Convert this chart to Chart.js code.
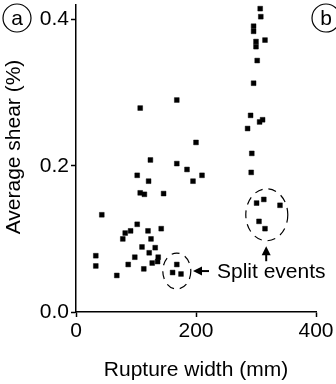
<!DOCTYPE html>
<html>
<head>
<meta charset="utf-8">
<script src="https://cdn.jsdelivr.net/npm/chart.js@4.4.0/dist/chart.umd.min.js"></script>
<style>
  html, body { margin: 0; padding: 0; background: #fff; }
</style>
</head>
<body>
<canvas id="shearChart" width="336" height="384"></canvas>
<script>
// rupture width (mm) / average shear (%)
const mainWidth = [168, 107, 200, 124, 168, 185, 102, 210, 121, 195, 107, 114, 146, 43, 102, 91, 82, 120, 142, 78, 125, 110, 132, 122, 33, 98, 137, 33, 87, 127, 136, 113, 68,
                   307, 308, 296, 296, 300, 315, 300, 302, 296, 291, 311, 306, 286, 293, 292];
const mainShear = [0.290, 0.279, 0.232, 0.208, 0.203, 0.195, 0.187, 0.187, 0.179, 0.179, 0.163, 0.161, 0.162, 0.133, 0.120, 0.111, 0.108, 0.111, 0.114, 0.100, 0.100, 0.089, 0.088, 0.081, 0.077, 0.075, 0.075, 0.063, 0.065, 0.067, 0.069, 0.059, 0.050,
                   0.415, 0.404, 0.391, 0.384, 0.370, 0.372, 0.363, 0.344, 0.313, 0.269, 0.263, 0.260, 0.251, 0.217, 0.191];
// split events (circled)
const splitWidth = [168, 161, 175, 313, 301, 340, 305, 315];
const splitShear = [0.065, 0.054, 0.052, 0.154, 0.149, 0.146, 0.124, 0.114];

const xTicks = [0, 200, 400];
const yTicks = [0, 0.2, 0.4];

const FONT = "'Liberation Sans', Arial, Helvetica, sans-serif";

function toPoints(xs, ys) {
	return xs.map((x, i) => ({ x: x, y: ys[i] }));
}

// y title, dashed rings, arrows, "Split events", panel letters
const notes = {
	id: 'notes',
	afterDraw(chart) {
		const ctx = chart.ctx;
		const sx = chart.scales.x, sy = chart.scales.y;
		ctx.save();
		ctx.strokeStyle = '#000';
		ctx.fillStyle = '#000';
		ctx.font = '21px ' + FONT;

		// y axis title (sits a bit above the axis middle in the figure)
		ctx.save();
		ctx.translate(14, 147);
		ctx.rotate(-Math.PI / 2);
		ctx.textAlign = 'center';
		ctx.textBaseline = 'middle';
		ctx.fillText('Average shear (%)', 0, 0);
		ctx.restore();

		ctx.lineWidth = 1.2;
		ctx.setLineDash([8, 6]);
		ctx.beginPath();
		ctx.ellipse(sx.getPixelForValue(168), sy.getPixelForValue(0.056), 14, 18, 0, 0, Math.PI * 2);
		ctx.stroke();
		ctx.beginPath();
		ctx.ellipse(sx.getPixelForValue(318), sy.getPixelForValue(0.133), 21, 26, 0, 0, Math.PI * 2);
		ctx.stroke();
		ctx.setLineDash([]);

		// left arrow
		let ax = sx.getPixelForValue(195), ay = sy.getPixelForValue(0.056);
		ctx.lineWidth = 2;
		ctx.beginPath(); ctx.moveTo(ax + 6, ay); ctx.lineTo(ax + 16, ay); ctx.stroke();
		ctx.beginPath(); ctx.moveTo(ax, ay); ctx.lineTo(ax + 9, ay - 4.5); ctx.lineTo(ax + 9, ay + 4.5); ctx.closePath(); ctx.fill();

		// up arrow
		let bx = sx.getPixelForValue(317), by = sy.getPixelForValue(0.09);
		ctx.beginPath(); ctx.moveTo(bx, by + 6); ctx.lineTo(bx, by + 15); ctx.stroke();
		ctx.beginPath(); ctx.moveTo(bx, by); ctx.lineTo(bx - 4.5, by + 9); ctx.lineTo(bx + 4.5, by + 9); ctx.closePath(); ctx.fill();

		ctx.textAlign = 'left';
		ctx.textBaseline = 'middle';
		ctx.fillText('Split events', ax + 24, ay + 1);

		// panel letters
		ctx.lineWidth = 1.2;
		ctx.textAlign = 'center';
		[['a', 17, 18], ['b', 326, 18]].forEach(function(p) {
			ctx.beginPath();
			ctx.arc(p[1], p[2], 14, 0, Math.PI * 2);
			ctx.stroke();
			ctx.fillText(p[0], p[1], p[2] + 1);
		});
		ctx.restore();
	}
};

const ctx = document.getElementById('shearChart').getContext('2d');
const shearChart = new Chart(ctx, {
	type: 'scatter',
	data: {
		datasets: [
			{
				label: 'events',
				data: toPoints(mainWidth, mainShear),
				pointStyle: 'rect',
				pointRadius: 3.4,
				backgroundColor: '#000',
				borderColor: 'rgba(0,0,0,0.45)',
				borderWidth: 1,
				clip: false
			},
			{
				label: 'split events',
				data: toPoints(splitWidth, splitShear),
				pointStyle: 'rect',
				pointRadius: 3.4,
				backgroundColor: '#000',
				borderColor: 'rgba(0,0,0,0.45)',
				borderWidth: 1,
				clip: false
			}
		]
	},
	options: {
		responsive: false,
		animation: false,
		layout: { padding: { top: 0, right: 20, bottom: 0, left: 0 } },
		plugins: {
			legend: { display: false },
			tooltip: { enabled: false }
		},
		scales: {
			x: {
				type: 'linear',
				min: 0,
				max: 400,
				afterBuildTicks: function(s) { s.ticks = xTicks.map(v => ({ value: v })); },
				afterFit: function(s) { s.height = 72; s.paddingLeft = 0; s.paddingRight = 0; },
				grid: { drawOnChartArea: false, tickLength: 5, tickWidth: 1.5, tickColor: '#000' },
				border: { color: '#000', width: 1.5 },
				ticks: { color: '#000', padding: 2, maxRotation: 0, font: { size: 21, family: FONT } },
				title: { display: true, text: 'Rupture width (mm)', color: '#000', padding: { top: 0, bottom: 1 }, font: { size: 21, family: FONT } }
			},
			y: {
				min: 0,
				max: 0.42,
				afterBuildTicks: function(s) { s.ticks = yTicks.map(v => ({ value: v })); },
				afterFit: function(s) { s.width = 76; s.paddingTop = 0; s.paddingBottom = 0; },
				grid: { drawOnChartArea: false, tickLength: 5, tickWidth: 1.5, tickColor: '#000' },
				border: { color: '#000', width: 1.5 },
				ticks: { color: '#000', padding: 2, font: { size: 21, family: FONT }, callback: v => v.toFixed(1) },
				title: { display: false }
			}
		}
	},
	plugins: [notes]
});
</script>
</body>
</html>
